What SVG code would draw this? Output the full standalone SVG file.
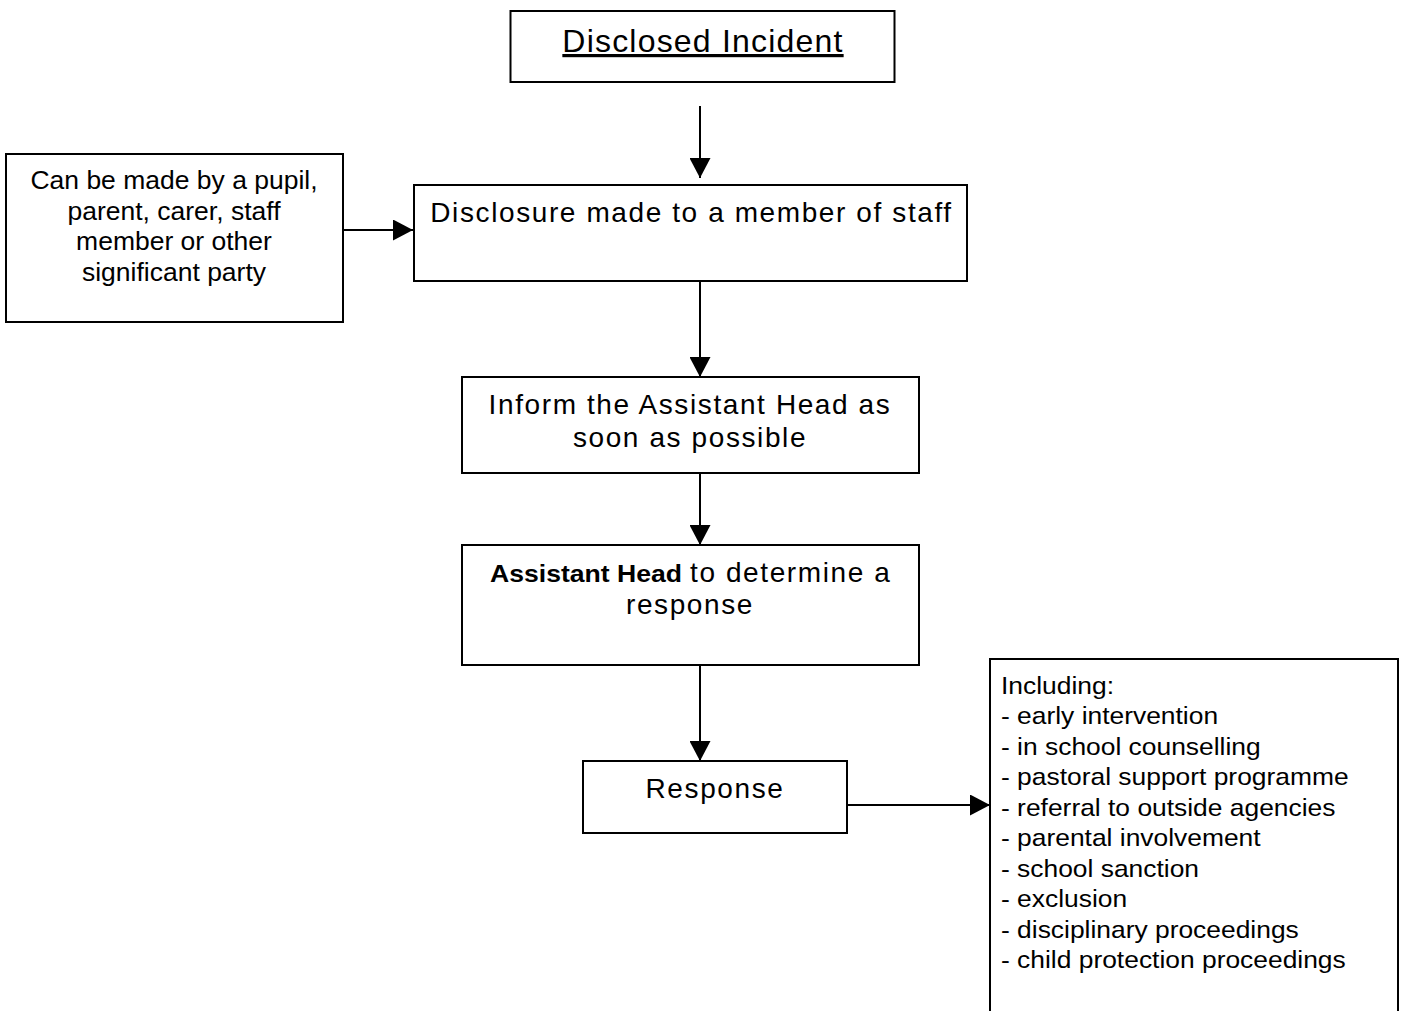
<svg xmlns="http://www.w3.org/2000/svg" width="1406" height="1011" viewBox="0 0 1406 1011">
<style>
.box{fill:#fff;stroke:#000;stroke-width:2}
.sp{font-family:"Liberation Sans",Arial,sans-serif;font-size:28px;letter-spacing:1.6px;fill:#000;text-anchor:middle}
.st{text-anchor:start}
.nm{font-family:"Liberation Sans",Arial,sans-serif;font-size:24px;fill:#000}
.lf{font-family:"Liberation Sans",Arial,sans-serif;font-size:25px;fill:#000;text-anchor:middle}
.ln{stroke:#000;stroke-width:2;fill:none}
</style>
<defs>
<marker id="ah" markerWidth="21" markerHeight="21" refX="20" refY="10.5" orient="auto" markerUnits="userSpaceOnUse">
<path d="M0,0 L20,10.5 L0,21 Z" fill="#000"/>
</marker>
</defs>
<g id="connectors">
<line class="ln" x1="700" y1="106" x2="700" y2="178" marker-end="url(#ah)"/>
<line class="ln" x1="343" y1="230" x2="413" y2="230" marker-end="url(#ah)"/>
<line class="ln" x1="700" y1="281" x2="700" y2="377" marker-end="url(#ah)"/>
<line class="ln" x1="700" y1="473" x2="700" y2="545" marker-end="url(#ah)"/>
<line class="ln" x1="700" y1="665" x2="700" y2="761" marker-end="url(#ah)"/>
<line class="ln" x1="847" y1="805" x2="990" y2="805" marker-end="url(#ah)"/>
</g>
<g id="disclosed-incident">
<rect class="box" x="510.5" y="11" width="384" height="71"/>
<text x="703" y="52" font-family="'Liberation Sans',Arial,sans-serif" font-size="32" letter-spacing="1.2" text-anchor="middle" text-decoration="underline">Disclosed Incident</text>
</g>
<g id="who-can-disclose">
<rect class="box" x="6" y="154" width="337" height="168"/>
<g transform="translate(174 0) scale(1.06 1)">
<text class="lf" x="0" y="189.5">Can be made by a pupil,</text>
<text class="lf" x="0" y="220">parent, carer, staff</text>
<text class="lf" x="0" y="250.5">member or other</text>
<text class="lf" x="0" y="281">significant party</text>
</g>
</g>
<g id="disclosure">
<rect class="box" x="414" y="185" width="553" height="96"/>
<text class="sp" x="691.5" y="222">Disclosure made to a member of staff</text>
</g>
<g id="inform">
<rect class="box" x="462" y="377" width="457" height="96"/>
<text class="sp" x="690" y="414">Inform the Assistant Head as</text>
<text class="sp" x="690" y="447">soon as possible</text>
</g>
<g id="determine">
<rect class="box" x="462" y="545" width="457" height="120"/>
<text x="490" y="582" font-family="'Liberation Sans',Arial,sans-serif" font-size="24" font-weight="bold" textLength="192" lengthAdjust="spacingAndGlyphs">Assistant Head</text>
<text class="sp st" x="690" y="582">to determine a</text>
<text class="sp" x="690" y="614">response</text>
</g>
<g id="response">
<rect class="box" x="583" y="761" width="264" height="72"/>
<text class="sp" x="715" y="798">Response</text>
</g>
<g id="including">
<path class="box" d="M990,1012 V659 H1398 V1012"/>
<g transform="translate(1001 0) scale(1.1 1)">
<text class="nm" x="0" y="694">Including:</text>
<text class="nm" x="0" y="724.5">- early intervention</text>
<text class="nm" x="0" y="755">- in school counselling</text>
<text class="nm" x="0" y="785.5">- pastoral support programme</text>
<text class="nm" x="0" y="816">- referral to outside agencies</text>
<text class="nm" x="0" y="846.5">- parental involvement</text>
<text class="nm" x="0" y="877">- school sanction</text>
<text class="nm" x="0" y="907.5">- exclusion</text>
<text class="nm" x="0" y="938">- disciplinary proceedings</text>
<text class="nm" x="0" y="968.5">- child protection proceedings</text>
</g>
</g>
</svg>
